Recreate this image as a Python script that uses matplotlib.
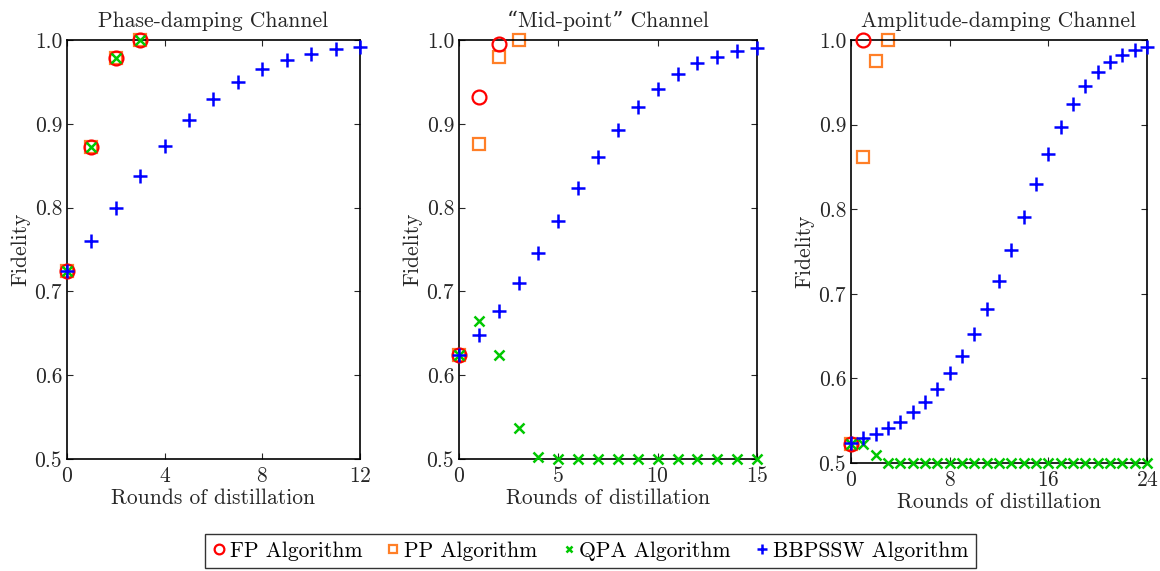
import matplotlib as mpl
mpl.use('Agg')
import matplotlib.pyplot as plt
import numpy as np

plt.rcParams['font.family'] = ['cmr10', 'DejaVu Serif']
plt.rcParams['mathtext.fontset'] = 'cm'
plt.rcParams['axes.formatter.use_mathtext'] = True

titles = ["Phase-damping Channel", "\u201cMid-point\u201d Channel", "Amplitude-damping Channel"]
xticks = [[0, 4, 8, 12], [0, 5, 10, 15], [0, 8, 16, 24]]

# Phase-damping
fp1 = [0.724, 0.872, 0.979, 1.0]
pp1 = [0.724, 0.872, 0.979, 1.0]
qpa1 = [0.724, 0.872, 0.979, 1.0]
bb1 = [0.724, 0.760, 0.800, 0.838, 0.873, 0.904, 0.929, 0.950, 0.965, 0.976,
       0.983, 0.989, 0.992]

# Mid-point
fp2 = [0.624, 0.932, 0.995]
pp2 = [0.624, 0.876, 0.980, 1.0]
qpa2 = [0.624, 0.665, 0.624, 0.537, 0.503, 0.5, 0.5, 0.5, 0.5, 0.5, 0.5, 0.5,
        0.5, 0.5, 0.5, 0.5]
bb2 = [0.624, 0.648, 0.677, 0.710, 0.746, 0.784, 0.823, 0.860, 0.893, 0.920,
       0.942, 0.959, 0.972, 0.980, 0.987, 0.991]

# Amplitude-damping
fp3 = [0.523, 1.0]
pp3 = [0.523, 0.862, 0.975, 1.0]
qpa3 = [0.523, 0.523, 0.509] + [0.5] * 22
bb3 = [0.524, 0.530, 0.534, 0.541, 0.549, 0.560, 0.572, 0.587, 0.606, 0.627,
       0.652, 0.682, 0.715, 0.752, 0.791, 0.830, 0.865, 0.897, 0.924, 0.946,
       0.962, 0.974, 0.982, 0.988, 0.992]

data = [(fp1, pp1, qpa1, bb1), (fp2, pp2, qpa2, bb2), (fp3, pp3, qpa3, bb3)]

red = '#ff0000'
orange = '#ff7f27'
green = '#00c800'
blue = '#0000ff'
txt = '#262626'
fs = 15.5

fig = plt.figure(figsize=(11.6, 5.71), dpi=100)
boxes = [[0.0578, 0.196, 0.2525, 0.734],
         [0.3957, 0.196, 0.2569, 0.734],
         [0.7336, 0.189, 0.2552, 0.741]]

handles = None
for i in range(3):
    ax = fig.add_axes(boxes[i])
    fp, pp, qpa, bb = data[i]
    h2, = ax.plot(range(len(pp)), pp, 's', ms=8, mfc='none', mec=orange, mew=1.6,
                  clip_on=False, zorder=2)
    h1, = ax.plot(range(len(fp)), fp, 'o', ms=10, mfc='none', mec=red, mew=1.6,
                  clip_on=False, zorder=3)
    h3, = ax.plot(range(len(qpa)), qpa, 'x', ms=6.5, color=green, mew=1.8,
                  clip_on=False, zorder=4)
    h4, = ax.plot(range(len(bb)), bb, '+', ms=10, color=blue, mew=1.8,
                  clip_on=False, zorder=5)
    handles = [h1, h2, h3, h4]
    ax.set_xlim(xticks[i][0], xticks[i][-1])
    ax.set_ylim(0.5, 1.0)
    ax.set_xticks(xticks[i])
    ax.set_yticks([0.5, 0.6, 0.7, 0.8, 0.9, 1.0])
    ax.set_yticklabels(['0.5', '0.6', '0.7', '0.8', '0.9', '1.0'])
    ax.tick_params(direction='in', top=True, right=True, labelsize=fs,
                   colors=txt, length=4)
    ax.tick_params(axis='x', pad=5)
    for s in ax.spines.values():
        s.set_linewidth(1.2)
    ax.set_title(titles[i], fontsize=fs, color=txt, pad=9)
    ax.set_xlabel("Rounds of distillation", fontsize=fs, color=txt, labelpad=2)
    ax.set_ylabel("Fidelity", fontsize=fs, color=txt, labelpad=3)

leg = fig.legend(handles, ["FP Algorithm", "PP Algorithm", "QPA Algorithm", "BBPSSW Algorithm"],
                 loc='center', bbox_to_anchor=(0.509, 0.035), ncol=4, fontsize=fs,
                 frameon=True, fancybox=False, edgecolor='black', handlelength=0.6,
                 handletextpad=0.2, columnspacing=1.15, borderpad=0.35, markerscale=0.7)
leg.get_frame().set_linewidth(1.0)

fig.savefig('out.png', dpi=100)
